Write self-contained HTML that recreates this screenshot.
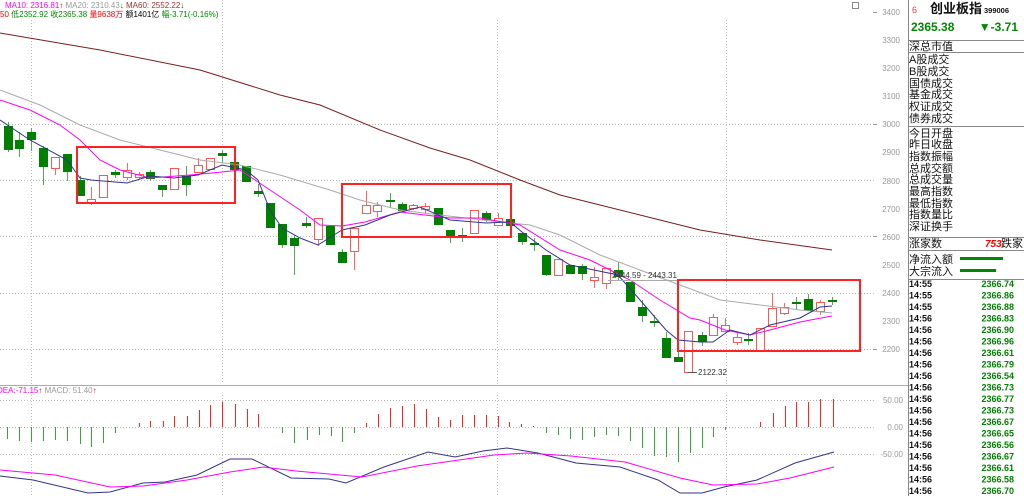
<!DOCTYPE html>
<html><head><meta charset="utf-8"><style>
html,body{margin:0;padding:0;background:#fff;width:1024px;height:496px;overflow:hidden}
svg{display:block;font-family:"Liberation Sans","Noto Sans CJK SC",sans-serif}
.ax{font-size:8px;fill:#999}
.pl{font-size:11px;fill:#111}
.tm{font-size:9px;font-weight:bold;fill:#111}
.tv{font-size:9px;font-weight:bold;fill:#008000}
</style></head><body>
<svg id="s" width="1024" height="496" viewBox="0 0 1024 496">
<g stroke="#bbb" stroke-dasharray="1,2" stroke-width="1">
<line x1="0" y1="124.5" x2="876" y2="124.5"/><line x1="0" y1="180.5" x2="876" y2="180.5"/><line x1="0" y1="236.5" x2="876" y2="236.5"/><line x1="0" y1="293.5" x2="876" y2="293.5"/><line x1="0" y1="349.5" x2="876" y2="349.5"/>
<line x1="0" y1="400.5" x2="876" y2="400.5"/><line x1="0" y1="427.5" x2="876" y2="427.5"/><line x1="0" y1="454.5" x2="876" y2="454.5"/>
<line x1="31.5" y1="20" x2="31.5" y2="384"/><line x1="222.5" y1="0" x2="222.5" y2="384"/><line x1="497.5" y1="20" x2="497.5" y2="384"/><line x1="726.5" y1="20" x2="726.5" y2="384"/>
<line x1="31.5" y1="395" x2="31.5" y2="496"/><line x1="222.5" y1="395" x2="222.5" y2="496"/><line x1="497.5" y1="395" x2="497.5" y2="496"/><line x1="726.5" y1="395" x2="726.5" y2="496"/>
</g>
<line x1="0" y1="385.5" x2="908" y2="385.5" stroke="#aaa"/>
<line x1="908.5" y1="0" x2="908.5" y2="496" stroke="#888"/>
<g class="ax" text-anchor="end">
<text x="900" y="15">3400</text><text x="900" y="43">3300</text><text x="900" y="71">3200</text><text x="900" y="99">3100</text><text x="900" y="127">3000</text><text x="900" y="155">2900</text><text x="900" y="184">2800</text><text x="900" y="212">2700</text><text x="900" y="240">2600</text><text x="900" y="268">2500</text><text x="900" y="296">2400</text><text x="900" y="324">2300</text><text x="900" y="352">2200</text>
<text x="903" y="403">50.00</text><text x="903" y="430">0.00</text><text x="903" y="457">-50.00</text>
</g>
<g stroke="#999"><line x1="873" y1="12.5" x2="877" y2="12.5"/><line x1="873" y1="124.5" x2="877" y2="124.5"/><line x1="873" y1="236.5" x2="877" y2="236.5"/><line x1="873" y1="349.5" x2="877" y2="349.5"/></g>
<g id="hist"></g>
<g id="cand"></g>
<g fill="none" stroke-width="1">
<polyline stroke="#7b1e1e" points="0,33 100,50 200,70 280,95 320,105 380,130 430,148 470,160 520,180 560,195 600,205 640,215 700,230 760,240 832,250"/>
<polyline stroke="#aaa" points="0,90 40,105 80,125 120,140 160,150 200,160 240,165 280,175 330,190 360,200 400,210 440,215 500,222 530,225 560,235 600,255 640,270 680,285 720,300 760,305 800,310 832,313"/>
<polyline stroke="#f0f" points="0,100 30,110 60,125 80,140 100,160 120,170 150,178 190,175 222,172 240,170 270,190 300,210 320,225 342,226 365,222 400,212 450,218 480,218 520,225 560,250 590,260 610,270 630,280 660,300 690,318 700,320 725,330 750,335 770,330 800,322 832,316"/>
<polyline stroke="#33338a" points="0,120 30,140 67,160 80,178 91,180 115,182 127,183 150,176 174,178 198,175 222,165 246,170 258,180 270,210 282,228 300,238 318,245 342,230 365,225 390,215 420,207 450,220 486,223 510,222 522,232 546,250 570,265 594,270 618,275 640,300 666,330 678,340 700,342 713,342 730,330 750,335 770,325 800,318 820,307 832,306"/>
<polyline stroke="#33338a" points="0,476 33,480 88,493 110,492 143,483 165,482 197,475 230,459 252,459 291,478 329,479 346,483 384,467 428,452 455,457 483,451 507,448 538,453 576,463 620,467 658,480 680,493 702,493 724,487 757,480 795,463 834,452"/>
<polyline stroke="#f0f" points="0,470 55,475 110,487 143,486 187,480 230,472 263,467 296,471 362,477 417,466 494,455 527,453 571,456 625,462 680,478 713,485 757,484 790,478 834,467"/>
</g>
<line x1="608" y1="280.5" x2="680" y2="280.5" stroke="#aaa"/>
<text x="612" y="278" font-size="8" fill="#333">2444.59 - 2443.31</text>
<line x1="688" y1="372.5" x2="697" y2="372.5" stroke="#555"/>
<text x="698" y="375" font-size="8" fill="#333">2122.32</text>
<g fill="none" stroke="#f22" stroke-width="2">
<rect x="77" y="147" width="158" height="56"/><rect x="342" y="184" width="169" height="53"/><rect x="678" y="280" width="182" height="71"/>
</g>
<g font-size="8">
<text x="5" y="8"><tspan fill="#f0f">MA10: 2316.81</tspan><tspan fill="#f00">↑</tspan> <tspan fill="#999">MA20: 2310.43</tspan><tspan fill="#080">↓</tspan> <tspan fill="#933">MA60: 2552.22</tspan><tspan fill="#080">↓</tspan></text>
<text x="0" y="17"><tspan fill="#f00">50</tspan> <tspan fill="#080">低2352.92 收2365.38</tspan> <tspan fill="#f00">量9638万</tspan> <tspan fill="#000">额1401亿</tspan> <tspan fill="#080">幅-3.71(-0.16%)</tspan></text>
<text x="-3" y="393"><tspan fill="#f0f">DEA:-71.15</tspan><tspan fill="#f00">↑</tspan> <tspan fill="#999">MACD: 51.40</tspan><tspan fill="#f00">↑</tspan></text>
</g>
<rect x="852.5" y="2.5" width="6" height="6" fill="none" stroke="#888"/>
<text x="912" y="13" font-size="9" fill="#f33">6</text>
<text x="930" y="13" font-size="13" font-weight="bold" fill="#111">创业板指</text>
<text x="984" y="13" font-size="7.5" font-weight="bold" fill="#111">399006</text>
<text x="911" y="31" font-size="12" font-weight="bold" fill="#080">2365.38</text>
<text x="1018" y="31" font-size="12" font-weight="bold" fill="#080" text-anchor="end">▼-3.71</text>
<g stroke="#888"><line x1="908" y1="40.5" x2="1024" y2="40.5"/><line x1="908" y1="52.5" x2="1024" y2="52.5"/><line x1="908" y1="126.5" x2="1024" y2="126.5"/><line x1="908" y1="237.5" x2="1024" y2="237.5"/><line x1="908" y1="250.5" x2="1024" y2="250.5"/><line x1="908" y1="279.5" x2="1024" y2="279.5"/></g>
<g class="pl">
<text x="909" y="50">深总市值</text>
<text x="909" y="63">A股成交</text><text x="909" y="75">B股成交</text><text x="909" y="87">国债成交</text><text x="909" y="98">基金成交</text><text x="909" y="110">权证成交</text><text x="909" y="122">债券成交</text>
<text x="909" y="137">今日开盘</text><text x="909" y="148">昨日收盘</text><text x="909" y="160">指数振幅</text><text x="909" y="172">总成交额</text><text x="909" y="183">总成交量</text><text x="909" y="195">最高指数</text><text x="909" y="207">最低指数</text><text x="909" y="218">指数量比</text><text x="909" y="230">深证换手</text>
<text x="909" y="247">涨家数</text><text x="1001" y="247">跌家</text>
<text x="909" y="263">净流入额</text><text x="909" y="275">大宗流入</text>
</g>
<text x="985" y="247" font-size="10" font-weight="bold" font-style="italic" fill="#f00">753</text>
<rect x="960" y="257" width="43" height="3" fill="#080"/><rect x="960" y="269" width="36" height="3" fill="#080"/>
<g id="tt"></g>
</svg>
<script>
var NS='http://www.w3.org/2000/svg';
function el(p,t,a){var e=document.createElementNS(NS,t);for(var k in a)e.setAttribute(k,a[k]);p.appendChild(e);return e;}
var c=[[8,126,150,122,152,'g'],[19,140,149,132,157,'g'],[31,132,140,128,151,'g'],[43,148,167,146,185,'g'],[55,157,168,157,175,'r'],[67,154,172,154,181,'g'],[80,180,196,176,196,'g'],[91,199,202,187,205,'r'],[103,175,197,175,197,'r'],[115,172,175,170,178,'g'],[127,170,177,163,180,'r'],[139,174,177,172,179,'r'],[150,172,179,170,181,'g'],[162,185,190,185,197,'g'],[174,168,189,168,189,'r'],[186,176,185,166,196,'g'],[198,165,172,158,172,'r'],[210,158,169,158,169,'r'],[222,153,156,150,163,'g'],[234,162,170,160,172,'g'],[246,166,182,166,182,'g'],[258,191,194,184,197,'g'],[270,203,228,203,228,'g'],[282,224,245,224,248,'g'],[294,238,246,235,275,'g'],[306,223,226,217,228,'g'],[318,218,239,218,246,'r'],[330,226,245,226,245,'g'],[342,252,263,249,263,'g'],[354,228,251,228,270,'r'],[366,205,213,191,213,'r'],[377,205,211,202,217,'r'],[390,200,202,193,208,'g'],[402,204,211,202,211,'g'],[413,205,208,204,210,'r'],[425,206,209,203,214,'r'],[438,208,225,208,225,'g'],[450,230,237,230,243,'g'],[462,235,238,228,242,'g'],[474,210,233,210,233,'r'],[486,213,220,211,222,'g'],[498,218,225,213,225,'r'],[510,219,226,219,226,'g'],[522,233,242,233,245,'g'],[534,243,245,238,251,'g'],[546,255,275,255,276,'g'],[558,259,275,259,275,'r'],[570,265,274,265,274,'g'],[582,266,274,264,280,'g'],[594,277,280,267,288,'r'],[606,268,283,268,289,'r'],[618,270,277,262,280,'g'],[630,282,302,282,302,'g'],[642,307,316,300,322,'g'],[654,321,322,315,327,'g'],[666,338,358,332,358,'g'],[678,357,362,345,362,'g'],[688,331,372,331,372,'r'],[702,335,342,332,346,'g'],[713,317,335,314,335,'r'],[725,325,331,318,331,'r'],[737,337,342,332,345,'r'],[748,339,341,333,345,'g'],[760,328,351,328,351,'r'],[772,308,326,293,326,'r'],[784,307,313,303,315,'r'],[796,302,304,297,309,'g'],[808,299,311,294,311,'g'],[820,302,311,300,315,'r'],[832,300,302,297,305,'g']];
var g=document.getElementById('cand');
c.forEach(function(d){
el(g,'line',{x1:d[0]+.5,y1:d[3],x2:d[0]+.5,y2:d[4],stroke:d[5]=='g'?'#5a5':'#f66'});
if(d[5]=='g')el(g,'rect',{x:d[0]-4,y:d[1],width:9,height:Math.max(2,d[2]-d[1]),fill:'#008000'});
else el(g,'rect',{x:d[0]-4+.5,y:d[1]+.5,width:8,height:Math.max(2,d[2]-d[1]),fill:'#fff',stroke:'#f55'});});
var h=document.getElementById('hist');
var gr=[[7,439],[19,441],[31,442],[43,441],[55,440],[67,441],[80,444],[91,447],[103,443],[115,433],[282,433],[294,443],[307,440],[319,435],[331,436],[342,442],[354,433],[546,433],[558,435],[570,439],[582,440],[594,437],[606,435],[618,436],[630,441],[642,448],[654,456],[666,457],[678,462],[690,453],[702,448],[713,437],[725,430]];
var rd=[[139,423],[150,421],[163,421],[174,416],[187,416],[199,410],[210,405],[222,402],[235,404],[247,409],[258,414],[366,423],[378,414],[390,408],[402,406],[414,404],[426,409],[438,417],[450,420],[462,415],[474,415],[486,415],[498,416],[509,422],[521,424],[533,426],[760,422],[773,413],[785,406],[796,402],[808,402],[820,399],[833,399]];
gr.forEach(function(d){el(h,'line',{x1:d[0]+.5,y1:427,x2:d[0]+.5,y2:d[1],stroke:'#3a3'});});
rd.forEach(function(d){el(h,'line',{x1:d[0]+.5,y1:427,x2:d[0]+.5,y2:d[1],stroke:'#f22'});});
var tv=['2366.74','2366.86','2366.88','2366.83','2366.90','2366.96','2366.61','2366.79','2366.54','2366.73','2366.77','2366.73','2366.67','2366.65','2366.56','2366.67','2366.61','2366.58','2366.70'];
var t=document.getElementById('tt');
tv.forEach(function(v,i){var y=287+i*11.5;
el(t,'text',{x:909,y:y,'class':'tm'}).textContent=i<3?'14:55':'14:56';
el(t,'text',{x:1014,y:y,'class':'tv','text-anchor':'end'}).textContent=v;});
</script>
</body></html>
